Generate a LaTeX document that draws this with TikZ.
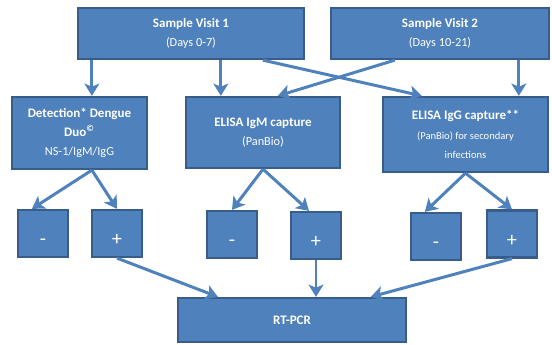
\documentclass[tikz,border=0pt]{standalone}
\usepackage{fontspec}
\setmainfont{Carlito}
\usepackage{xcolor}
\usepackage{tikz}
\usetikzlibrary{arrows.meta}
\usetikzlibrary{calc}
\definecolor{boxfill}{HTML}{4F81BD}
\definecolor{boxline}{HTML}{385D8A}
\newcommand{\hd}[1]{{\fontsize{7.4}{11}\selectfont\bfseries #1}}
\newcommand{\sm}[1]{{\fontsize{6}{11}\selectfont #1}}
\tikzstyle{arrow} = [line width=1.7pt, draw=boxfill, -{Stealth[length=7pt,width=8.5pt,inset=1.8pt]}]
\tikzstyle{block} = [draw=boxline, line width=1.3pt, fill=boxfill, text=white, align=center, inner sep=1pt, font=\fontsize{7}{11}\selectfont]
\tikzstyle{sign} = [block, minimum width=1cm, minimum height=0.94cm, text height=14pt, text depth=0pt, font=\fontsize{11.5}{11.5}\selectfont]

\begin{document}
\begin{tikzpicture}[x=0.02cm, y=-0.02cm]
			\useasboundingbox (0,0) rectangle (552,345);
			\node[block, minimum width=4.52cm, minimum height=1.02cm] (sv1) at (191,33.5) {\hd{Sample Visit 1}\\(Days 0-7)};
			\node[block, minimum width=4.36cm, minimum height=1.02cm] (sv2) at (440,33.5) {\hd{Sample Visit 2}\\(Days 10-21)};
			\node[block, minimum width=2.7cm, minimum height=1.44cm] (det) at (79.5,133) {\hd{Detection* Dengue}\\\hd{Duo\textsuperscript{©}}\\NS-1/IgM/IgG};
			\node[block, minimum width=3.08cm, minimum height=1.42cm] (igm) at (263,132.5) {\hd{ELISA IgM capture}\\(PanBio)};
			\node[block, minimum width=3.3cm, minimum height=1.5cm] (igg) at (465.5,134.5) {\hd{ELISA IgG capture**}\\\sm{(PanBio) for secondary}\\\sm{infections}};
			\node[sign] (neg1) at (43,233.5) {-};
			\node[sign] (pos1) at (117,233.5) {+};
			\node[sign] (neg2) at (232,234.5) {-};
			\node[sign] (pos2) at (316,235.5) {+};
			\node[sign] (neg3) at (436,236.5) {-};
			\node[sign] (pos3) at (512,234) {+};
			\node[block, minimum width=4.56cm, minimum height=0.88cm] (pcr) at (292,320) {\hd{RT-PCR}};
			\draw [arrow] ([xshift=0.3cm]sv1.south west) -- ([xshift=0.3cm]sv1.south west |- det.north);
			\draw [arrow] ([xshift=2.88cm]sv1.south west) -- ([xshift=2.88cm]sv1.south west |- igm.north);
			\draw [arrow] ([xshift=3.72cm]sv1.south west) -- ([xshift=0.8cm]igg.north west);
			\draw [arrow] ([xshift=1.3cm]sv2.south west) -- ([xshift=1.86cm]igm.north west);
			\draw [arrow] ([xshift=3.78cm]sv2.south west) -- ([xshift=3.78cm]sv2.south west |- igg.north);
			\draw [arrow] ([xshift=1.62cm]det.south west) -- ([xshift=0.3cm]neg1.north west);
			\draw [arrow] ([xshift=1.62cm]det.south west) -- (pos1.north);
			\draw [arrow] (igm.south) -- (neg2.north);
			\draw [arrow] (igm.south) -- ([xshift=-0.14cm]pos2.north);
			\draw [arrow] (igg.south) -- ([xshift=0.3cm]neg3.north west);
			\draw [arrow] (igg.south) -- (pos3.north);
			\draw [arrow] (pos1.south) -- ([xshift=0.82cm]pcr.north west);
			\draw [arrow] (pos2.south) -- (pos2.south |- pcr.north);
			\draw [arrow] (pos3.south) -- ([xshift=3.88cm]pcr.north west);
		\end{tikzpicture}
\end{document}
